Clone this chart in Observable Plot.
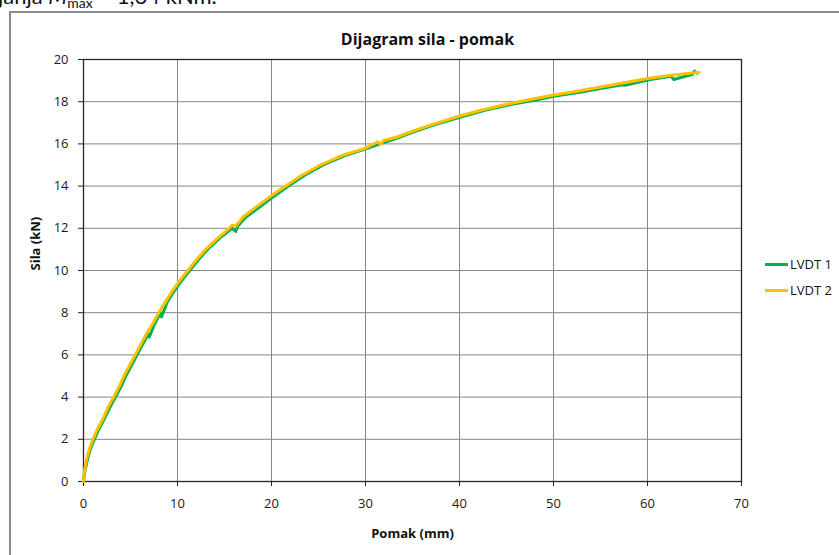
<!DOCTYPE html>
<html>
<head>
<meta charset="utf-8">
<script src="https://cdn.jsdelivr.net/npm/d3@7"></script>
<script src="https://cdn.jsdelivr.net/npm/@observablehq/plot@0.6"></script>
<style>
  html, body { margin: 0; padding: 0; background: #fff; }
  #wrap { position: relative; width: 839px; height: 555px; overflow: hidden; font-family: "Open Sans", Lato, sans-serif; }
  #toptext { position: absolute; left: -2px; top: -15px; font-size: 22px; line-height: 22px; color: #111; white-space: nowrap; font-family: Lato, sans-serif; }
  #toptext sub { font-size: 14px; vertical-align: -4px; }
  #box { position: absolute; left: 9px; top: 11px; width: 900px; height: 600px; border: 2px solid #8c8c8c; box-sizing: border-box; }
  #chart { position: absolute; left: 0; top: 0; }
  #legend { position: absolute; left: 765px; top: 251px; font-size: 13px; color: #111; }
  .item { display: flex; align-items: center; height: 26px; }
  .swatch { width: 23px; height: 3px; margin-right: 2px; }
</style>
</head>
<body>
<div id="wrap">
  <div id="toptext">janja <i>M</i><sub>max</sub> = 1,64 kNm.</div>
  <div id="box"></div>
  <div id="chart"></div>
  <div id="legend"></div>
</div>
<script>
const title = "Dijagram sila - pomak";
const xLabel = "Pomak (mm)";
const yLabel = "Sila (kN)";
const seriesNames = ["LVDT 1", "LVDT 2"];
const seriesColors = ["#00B050", "#FFC000"];
const xTicks = [0, 10, 20, 30, 40, 50, 60, 70];
const yTicks = [0, 2, 4, 6, 8, 10, 12, 14, 16, 18, 20];

// LVDT 1 (green)
const disp1 = [0, 0.15, 0.4, 0.7, 1.15, 1.65, 2.25, 2.8, 3.4, 4.0, 4.5, 5.1, 5.7, 6.3, 6.9, 7.0, 7.6, 8.2, 8.3, 8.9, 9.6, 10.4, 11.3, 12.2, 13.2, 14.4, 15.8, 16.2, 16.4, 17.2, 18.7, 20.2, 21.8, 23.5, 25.5, 27.8, 30.3, 31.8, 32.2, 33.8, 35.3, 37.3, 40.3, 42.8, 45.3, 47.8, 50.3, 52.8, 55.3, 57.3, 57.6, 60.3, 62.5, 62.8, 64.8, 65.0, 65.3];
const force1 = [0, 0.5, 1.0, 1.5, 2.0, 2.5, 3.0, 3.5, 4.0, 4.5, 5.0, 5.5, 6.0, 6.5, 7.0, 6.85, 7.5, 8.0, 7.8, 8.5, 9.0, 9.5, 10.0, 10.5, 11.0, 11.5, 12.0, 11.85, 12.1, 12.5, 13.0, 13.5, 14.0, 14.5, 15.0, 15.45, 15.8, 16.05, 16.1, 16.35, 16.6, 16.9, 17.3, 17.6, 17.85, 18.05, 18.28, 18.45, 18.65, 18.8, 18.78, 19.05, 19.2, 19.05, 19.3, 19.45, 19.35];

// LVDT 2 (yellow)
const disp2 = [0, 0.1, 0.3, 0.6, 1.0, 1.5, 2.1, 2.6, 3.2, 3.8, 4.3, 4.9, 5.5, 6.1, 6.7, 7.4, 8.0, 8.7, 9.4, 10.2, 11.1, 12.0, 13.0, 14.2, 15.5, 15.8, 16.2, 17.0, 18.5, 20.0, 21.5, 23.2, 25.2, 27.5, 30.0, 31.3, 31.6, 31.9, 33.5, 35.0, 37.0, 40.0, 42.5, 45.0, 47.5, 50.0, 52.5, 55.0, 57.5, 60.0, 62.5, 65.5];
const force2 = [0, 0.5, 1.0, 1.5, 2.0, 2.5, 3.0, 3.5, 4.0, 4.5, 5.0, 5.5, 6.0, 6.5, 7.0, 7.5, 8.0, 8.5, 9.0, 9.5, 10.0, 10.5, 11.0, 11.5, 12.0, 12.15, 12.1, 12.55, 13.05, 13.55, 14.0, 14.5, 15.0, 15.45, 15.8, 16.1, 15.98, 16.15, 16.35, 16.6, 16.9, 17.32, 17.62, 17.88, 18.1, 18.32, 18.5, 18.7, 18.9, 19.1, 19.25, 19.4];

const s1 = disp1.map((d, i) => ({x: d, y: force1[i]}));
const s2 = disp2.map((d, i) => ({x: d, y: force2[i]}));

const chart = Plot.plot({
  width: 839,
  height: 555,
  marginLeft: 83,
  marginRight: 98,
  marginTop: 59,
  marginBottom: 74,
  style: {fontFamily: "'Open Sans', Lato, sans-serif", fontSize: "13px", color: "#1a1a1a", background: "transparent"},
  x: {domain: [0, 70]},
  y: {domain: [0, 20]},
  marks: [
    Plot.gridX(xTicks, {stroke: "#868686", strokeOpacity: 1}),
    Plot.gridY(yTicks, {stroke: "#868686", strokeOpacity: 1}),
    Plot.axisX({ticks: xTicks, tickSize: 5, tickPadding: 12, label: null, stroke: "#222"}),
    Plot.axisY({ticks: yTicks, tickSize: 5, tickPadding: 10, label: null, stroke: "#222"}),
    Plot.frame({stroke: "#262626", strokeWidth: 1.3}),
    Plot.line(s1, {x: "x", y: "y", stroke: seriesColors[0], strokeWidth: 3}),
    Plot.line(s2, {x: "x", y: "y", stroke: seriesColors[1], strokeWidth: 3}),
    Plot.text([title], {frameAnchor: "top", dy: -26, dx: 15, fontWeight: "bold", fontSize: 16, fill: "#111"}),
    Plot.text([yLabel], {frameAnchor: "left", dx: -48, rotate: -90, fontWeight: "bold", fontSize: 13, fill: "#111"}),
    Plot.text([xLabel], {frameAnchor: "bottom", dy: 56, fontWeight: "bold", fontSize: 13, fill: "#111"})
  ]
});
document.getElementById("chart").appendChild(chart);

const legend = document.getElementById("legend");
seriesNames.forEach((n, i) => {
  const item = document.createElement("div");
  item.className = "item";
  const sw = document.createElement("div");
  sw.className = "swatch";
  sw.style.background = seriesColors[i];
  const t = document.createElement("span");
  t.textContent = n;
  item.appendChild(sw);
  item.appendChild(t);
  legend.appendChild(item);
});
</script>
</body>
</html>
